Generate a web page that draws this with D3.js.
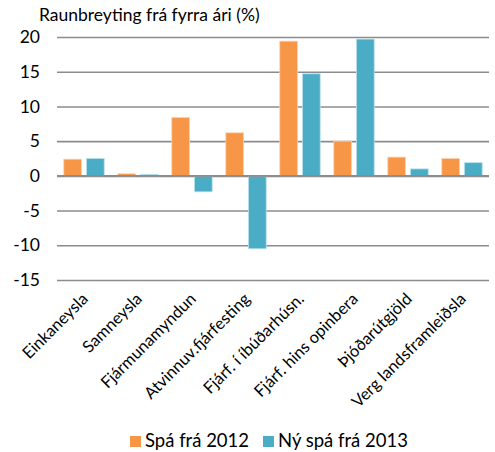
<!DOCTYPE html>
<html>
<head>
<meta charset="utf-8">
<script src="https://cdn.jsdelivr.net/npm/d3@7"></script>
<style>
  body { margin: 0; background: #fff; }
  text { font-family: Lato, "Open Sans", sans-serif; fill: #000; }
</style>
</head>
<body>
<div id="chart"></div>
<script>
// data
var categories = ["Einkaneysla", "Samneysla", "Fjármunamyndun", "Atvinnuv.fjárfesting",
  "Fjárf. í íbúðarhúsn.", "Fjárf. hins opinbera", "Þjóðarútgjöld", "Verg landsframleiðsla"];
var spa2012 = [2.4, 0.3, 8.4, 6.2, 19.4, 5.0, 2.7, 2.5];
var spa2013 = [2.5, 0.2, -2.3, -10.5, 14.7, 19.7, 1.0, 1.9];
var seriesNames = ["Spá frá 2012", "Ný spá frá 2013"];
var seriesColors = ["#F79646", "#4BACC6"];
var yTicks = [-15, -10, -5, 0, 5, 10, 15, 20];

var width = 495, height = 452;
var margin = {top: 37, right: 6, bottom: 172, left: 57};

var svg = d3.select("#chart").append("svg")
  .attr("width", width)
  .attr("height", height);

var x = d3.scaleBand()
  .domain(categories)
  .range([margin.left, width - margin.right]);

var x1 = d3.scaleBand()
  .domain(seriesNames)
  .range([0, x.bandwidth()])
  .paddingInner(0.22)
  .paddingOuter(0.3);

var y = d3.scaleLinear()
  .domain([-15, 20])
  .range([height - margin.bottom, margin.top]);

// gridlines (plain hyphen for negatives, like the original)
var yAxis = d3.axisLeft(y)
  .tickValues(yTicks)
  .tickSize(-(width - margin.left - margin.right))
  .tickPadding(17)
  .tickFormat(function(d) { return String(d); });

var gy = svg.append("g")
  .attr("transform", "translate(" + margin.left + ",0)")
  .call(yAxis);
gy.select(".domain").remove();
gy.selectAll(".tick line").attr("stroke", "#8c8c8c").attr("stroke-width", 1.6);
gy.selectAll(".tick text")
  .style("font-size", "17.5px")
  .attr("fill", "#000");

// bars
var rows = categories.map(function(c, i) {
  return {cat: c, vals: [spa2012[i], spa2013[i]]};
});

var groups = svg.append("g").selectAll("g")
  .data(rows)
  .enter().append("g")
  .attr("transform", function(d) { return "translate(" + x(d.cat) + ",0)"; });

groups.selectAll("rect")
  .data(function(d) {
    return d.vals.map(function(v, j) { return {name: seriesNames[j], value: v, j: j}; });
  })
  .enter().append("rect")
  .attr("x", function(d) { return x1(d.name); })
  .attr("y", function(d) { return y(Math.max(0, d.value)); })
  .attr("width", x1.bandwidth())
  .attr("height", function(d) { return Math.abs(y(d.value) - y(0)); })
  .attr("fill", function(d) { return seriesColors[d.j]; })
  .attr("stroke", function(d) { return d.j == 0 ? "#fbd0ae" : "#b6e0ea"; })
  .attr("stroke-width", 0.8);

// zero line on top of bars
svg.append("line")
  .attr("x1", margin.left)
  .attr("x2", width - margin.right)
  .attr("y1", y(0))
  .attr("y2", y(0))
  .attr("stroke", "#8c8c8c")
  .attr("stroke-width", 1.6);

// category labels, rotated
svg.append("g").selectAll("text")
  .data(categories)
  .enter().append("text")
  .attr("transform", function(d) {
    return "translate(" + (x(d) + x.bandwidth() / 2 + 5) + "," + (height - margin.bottom + 20) + ") rotate(-45)";
  })
  .attr("text-anchor", "end")
  .style("font-size", "16.5px")
  .text(function(d) { return d; });

// title
svg.append("text")
  .attr("x", 39)
  .attr("y", 21)
  .style("font-size", "17.5px")
  .text("Raunbreyting frá fyrra ári (%)");

// legend
var legendX = [130, 263];
var legend = svg.append("g").selectAll("g")
  .data(seriesNames)
  .enter().append("g")
  .attr("transform", function(d, i) { return "translate(" + legendX[i] + ",436)"; });

legend.append("rect")
  .attr("width", 11)
  .attr("height", 11)
  .attr("fill", function(d, i) { return seriesColors[i]; });

legend.append("text")
  .attr("x", 15)
  .attr("y", 11)
  .style("font-size", "18.5px")
  .text(function(d) { return d; });
</script>
</body>
</html>
